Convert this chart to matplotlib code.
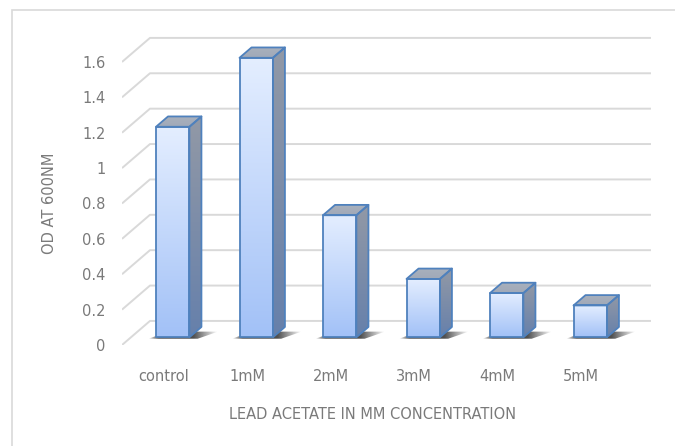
import matplotlib
matplotlib.use("Agg")
import matplotlib.pyplot as plt
import numpy as np
from matplotlib.patches import Polygon, Rectangle

# 数据
categories = ["control", "1mM", "2mM", "3mM", "4mM", "5mM"]
od_values = [1.19, 1.58, 0.69, 0.33, 0.25, 0.18]
y_ticks = [0, 0.2, 0.4, 0.6, 0.8, 1.0, 1.2, 1.4, 1.6]
y_tick_labels = ["0", "0.2", "0.4", "0.6", "0.8", "1", "1.2", "1.4", "1.6"]

plt.rcParams["font.family"] = ["Liberation Sans Narrow", "DejaVu Sans"]
TEXT = "#7a7a7a"
GRID = "#d9d9d9"
EDGE = "#4f81bd"

# 3D look: depth offset of the back wall in data units
DX, DY = 0.335, 0.136
BAR_W = 0.40
FRONT = 0.32      # depth of the bar front face
DEPTH = 0.43      # bar depth


def shaded_face(ax, verts, c_top, c_bot, z, horizontal=False, alpha=None, edge=EDGE, lw=1.3):
    poly = Polygon(verts, closed=True, facecolor="none", edgecolor=edge,
                   lw=lw, zorder=z + 0.5, joinstyle="round")
    ax.add_patch(poly)
    xs, ys = zip(*verts)
    t = np.linspace(0, 1, 128)
    c_top = np.array(matplotlib.colors.to_rgb(c_top))
    c_bot = np.array(matplotlib.colors.to_rgb(c_bot))
    rgb = c_top + (c_bot - c_top) * t[:, None]
    if alpha is not None:
        rgb = np.concatenate([rgb, alpha(t)[:, None]], axis=1)
    img = rgb[None, :, :] if horizontal else rgb[:, None, :]
    im = ax.imshow(img, extent=(min(xs), max(xs), min(ys), max(ys)),
                   origin="upper", aspect="auto", zorder=z,
                   interpolation="bilinear")
    im.set_clip_path(poly)
    return poly


def shadow_alpha(t):
    # dark under the bar, fading out towards both ends
    left = np.clip(t / 0.15, 0, 1)
    right = np.clip((1 - t) / 0.35, 0, 1)
    return 0.85 * left * right


fig = plt.figure(figsize=(6.75, 4.46), dpi=100)
fig.patches.append(Rectangle((12 / 675, -0.1), 1.2, 1 - 10 / 446 + 0.1,
                             transform=fig.transFigure, fill=False,
                             edgecolor=GRID, lw=1.2))

# axes spans from the front-left floor corner up to the top/right of the figure
ax = fig.add_axes([122 / 675, 101 / 446, 553 / 675, 345 / 446])
n = len(categories)
x0, x1 = -0.5, n - 0.5

# gridlines: slanted side wall + back wall
for v in y_ticks:
    ax.plot([x0, x0 + DX, x1 + DX], [v, v + DY, v + DY],
            color=GRID, lw=1.4, zorder=1, solid_capstyle="butt")

for i, v in enumerate(od_values):
    fx0 = i - BAR_W / 2 + FRONT * DX
    fx1 = i + BAR_W / 2 + FRONT * DX
    yb = FRONT * DY
    yt = v + FRONT * DY
    bdx, bdy = DEPTH * DX, DEPTH * DY

    # floor shadow
    shaded_face(ax, [(fx0 - 0.09, yb - 0.008), (fx1 + 0.1, yb - 0.008),
                     (fx1 + bdx + 0.2, yb + bdy * 0.55), (fx0 + bdx, yb + bdy * 0.55)],
                "#2e2e2e", "#2e2e2e", 2, horizontal=True,
                alpha=shadow_alpha, edge="none", lw=0)
    # front face
    shaded_face(ax, [(fx0, yb), (fx1, yb), (fx1, yt), (fx0, yt)],
                "#e4eeff", "#a2c1f7", 3)
    # side face
    shaded_face(ax, [(fx1, yb), (fx1 + bdx, yb + bdy),
                     (fx1 + bdx, yt + bdy), (fx1, yt)],
                "#9299a6", "#6680ab", 3)
    # top face
    shaded_face(ax, [(fx0, yt), (fx1, yt), (fx1 + bdx, yt + bdy),
                     (fx0 + bdx, yt + bdy)],
                "#aab1bd", "#a0a9b8", 3)

ax.set_xlim(x0, x0 + 553 / 83.5)
ax.set_ylim(0, 345 / 176.9)
ax.set_xticks(range(n))
ax.set_xticklabels(categories)
ax.set_yticks(y_ticks)
ax.set_yticklabels(y_tick_labels)
ax.tick_params(axis="both", length=0, labelsize=10.5, colors=TEXT)
ax.tick_params(axis="x", pad=17)
ax.tick_params(axis="y", pad=12)
for s in ax.spines.values():
    s.set_visible(False)
ax.patch.set_visible(False)

ax.set_ylabel("OD AT 600NM", fontsize=10.5, color=TEXT)
ax.yaxis.set_label_coords(-1.276, 0.8, transform=ax.transData)
ax.set_xlabel("LEAD ACETATE IN MM CONCENTRATION", fontsize=10.5, color=TEXT)
ax.xaxis.set_label_coords(2.5, -0.35, transform=ax.transData)

fig.savefig("out.png", dpi=100)
